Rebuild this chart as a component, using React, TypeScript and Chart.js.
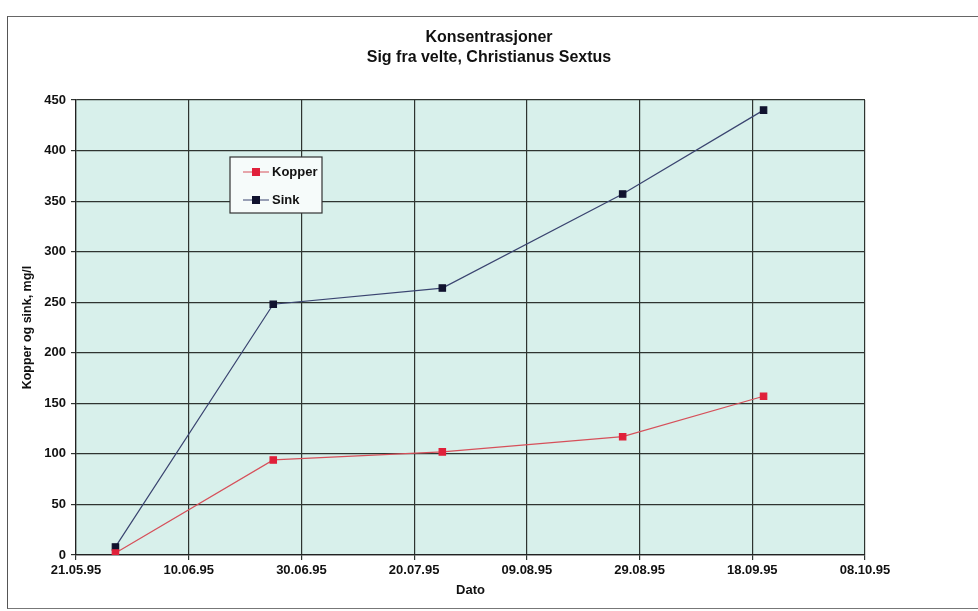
import React, { useEffect, useRef } from 'react';
import { Chart, registerables } from 'chart.js';

Chart.register(...registerables);

// ---- data ----
const chartTitle = ['Konsentrasjoner', 'Sig fra velte, Christianus Sextus'];
const xAxisTitle = 'Dato';
const yAxisTitle = 'Kopper og sink, mg/l';
const axisStartDate = '21.05.95';
const axisEndDate = '08.10.95';
const tickStepDays = 20;
const sampleDates = ['28.05.95', '25.06.95', '25.07.95', '26.08.95', '20.09.95'];
const kopper = [2, 94, 102, 117, 157];
const sink = [8, 248, 264, 357, 440];
const yMin = 0;
const yMax = 450;
const yStep = 50;
const seriesNames = ['Kopper', 'Sink'];

const FONT = '"Liberation Sans", Arial, sans-serif';
const DAY_MS = 86400000;

function toDay(s: string): number {
  const [d, m, y] = s.split('.').map(Number);
  return Date.UTC(1900 + y, m - 1, d) / DAY_MS;
}
const day0 = toDay(axisStartDate);
const dayEnd = toDay(axisEndDate) - day0;

function fmtDay(offset: number): string {
  const dt = new Date((day0 + offset) * DAY_MS);
  const dd = String(dt.getUTCDate()).padStart(2, '0');
  const mm = String(dt.getUTCMonth() + 1).padStart(2, '0');
  const yy = String(dt.getUTCFullYear() % 100).padStart(2, '0');
  return `${dd}.${mm}.${yy}`;
}

const COLORS = {
  kopperLine: '#d6505a',
  kopperPoint: '#e0203a',
  sinkLine: '#3a4470',
  sinkPoint: '#10122e',
  grid: '#2e3430',
  plotBg: '#d8f0eb',
};

const plotBgPlugin = {
  id: 'plotBg',
  beforeDraw(chart: any) {
    const { ctx, chartArea: a } = chart;
    ctx.save();
    ctx.fillStyle = COLORS.plotBg;
    ctx.fillRect(a.left, a.top, a.right - a.left, a.bottom - a.top);
    ctx.restore();
  },
};

const boxLegendPlugin = {
  id: 'boxLegend',
  afterDraw(chart: any) {
    const { ctx, chartArea: a } = chart;
    const x = a.left + 154;
    const y = a.top + 57;
    const w = 92;
    const h = 56;
    ctx.save();
    ctx.fillStyle = '#f6fbfa';
    ctx.fillRect(x, y, w, h);
    ctx.strokeStyle = '#333';
    ctx.lineWidth = 1.2;
    ctx.strokeRect(x, y, w, h);
    const rows = [
      { name: seriesNames[0], line: COLORS.kopperLine, pt: COLORS.kopperPoint, cy: y + 15 },
      { name: seriesNames[1], line: COLORS.sinkLine, pt: COLORS.sinkPoint, cy: y + 43 },
    ];
    rows.forEach((r) => {
      ctx.strokeStyle = r.line;
      ctx.lineWidth = 1;
      ctx.beginPath();
      ctx.moveTo(x + 13, r.cy);
      ctx.lineTo(x + 39, r.cy);
      ctx.stroke();
      ctx.fillStyle = r.pt;
      ctx.fillRect(x + 22, r.cy - 4, 8, 8);
      ctx.fillStyle = '#111';
      ctx.font = `bold 13px ${FONT}`;
      ctx.textBaseline = 'middle';
      ctx.textAlign = 'left';
      ctx.fillText(r.name, x + 42, r.cy);
    });
    ctx.restore();
  },
};

export default function App() {
  const ref = useRef<HTMLCanvasElement | null>(null);

  useEffect(() => {
    document.body.style.margin = '0';
    const canvas = ref.current;
    if (!canvas) return;
    const xs = sampleDates.map((d) => toDay(d) - day0);
    const tickFont = { family: FONT, size: 13, weight: 'bold' as const };
    const chart = new Chart(canvas, {
      type: 'line',
      data: {
        datasets: [
          {
            label: seriesNames[0],
            data: xs.map((x, i) => ({ x, y: kopper[i] })),
            borderColor: COLORS.kopperLine,
            backgroundColor: COLORS.kopperPoint,
            pointBackgroundColor: COLORS.kopperPoint,
            pointBorderColor: COLORS.kopperPoint,
            borderWidth: 1.2,
            pointStyle: 'rect',
            pointRadius: 4.5,
            tension: 0,
            yAxisID: 'y',
          },
          {
            label: seriesNames[1],
            data: xs.map((x, i) => ({ x, y: sink[i] })),
            borderColor: COLORS.sinkLine,
            backgroundColor: COLORS.sinkPoint,
            pointBackgroundColor: COLORS.sinkPoint,
            pointBorderColor: COLORS.sinkPoint,
            borderWidth: 1.2,
            pointStyle: 'rect',
            pointRadius: 4.5,
            tension: 0,
            yAxisID: 'y',
          },
        ],
      },
      options: {
        animation: false,
        responsive: false,
        layout: { padding: { left: 0, right: 0, top: 0, bottom: 10 } },
        plugins: {
          legend: { display: false },
          tooltip: { enabled: false },
          title: {
            display: true,
            text: chartTitle,
            color: '#111',
            font: { family: FONT, size: 16, weight: 'bold', lineHeight: 1.25 },
            padding: { top: 28, bottom: 32 },
          },
        },
        scales: {
          x: {
            type: 'linear',
            min: 0,
            max: dayEnd,
            ticks: {
              stepSize: tickStepDays,
              callback: (v: any) => fmtDay(Number(v)),
              color: '#111',
              font: tickFont,
              padding: 3,
              maxRotation: 0,
              autoSkip: false,
            },
            grid: { color: COLORS.grid, lineWidth: 1.2, tickLength: 5 },
            border: { color: '#222', width: 1.2 },
            title: {
              display: true,
              text: xAxisTitle,
              color: '#111',
              font: { family: FONT, size: 13, weight: 'bold' },
              padding: { top: 0, bottom: 3 },
            },
            afterFit: (s: any) => {
              s.height = 46;
            },
          },
          y: {
            position: 'left',
            min: yMin,
            max: yMax,
            ticks: {
              stepSize: yStep,
              color: '#111',
              font: tickFont,
              padding: 5,
            },
            grid: { color: COLORS.grid, lineWidth: 1.2, tickLength: 5 },
            border: { color: '#222', width: 1.2 },
            title: {
              display: true,
              text: yAxisTitle,
              color: '#111',
              font: { family: FONT, size: 12.5, weight: 'bold' },
              padding: { top: 20, bottom: 0 },
            },
            afterFit: (s: any) => {
              s.width = 76;
            },
          },
          rightSpace: {
            position: 'right',
            min: yMin,
            max: yMax,
            grid: { display: false },
            border: { display: false },
            ticks: { display: false },
            afterFit: (s: any) => {
              s.width = 113;
            },
          },
        },
      },
      plugins: [plotBgPlugin, boxLegendPlugin],
    } as any);
    return () => chart.destroy();
  }, []);

  return (
    <div style={{ position: 'fixed', left: 0, top: 0, width: 978, height: 611, background: '#fff', overflow: 'hidden' }}>
      <div
        style={{
          position: 'absolute',
          left: 7,
          top: 16,
          width: 1010,
          height: 591,
          borderLeft: '1.5px solid #555',
          borderTop: '1.5px solid #666',
          borderBottom: '1.5px solid #777',
        }}
      />
      <canvas ref={ref} width={978} height={611} style={{ position: 'absolute', left: 0, top: 0, width: 978, height: 611 }} />
    </div>
  );
}
